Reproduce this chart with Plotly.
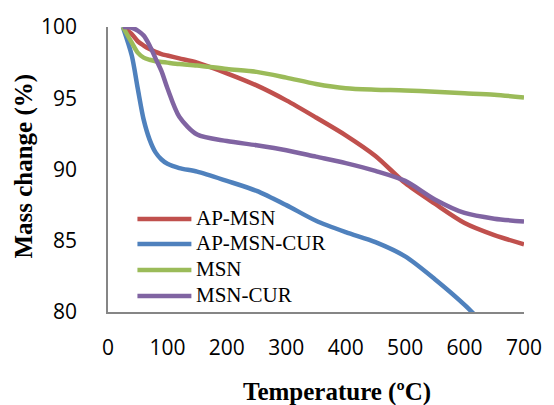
import plotly.graph_objects as go

temperature = [25, 40, 50, 60, 70, 80, 90, 100, 120, 150, 200, 250, 300, 350, 400, 450, 500, 550, 600, 650, 700]

ap_msn = [100, 99.5, 99.0, 98.7, 98.45, 98.25, 98.1, 98.0, 97.8, 97.5, 96.75, 95.9, 94.85, 93.65, 92.4, 90.95, 89.05, 87.6, 86.25, 85.4, 84.75]
ap_msn_cur = [100, 98.0, 95.7, 93.5, 92.1, 91.2, 90.7, 90.4, 90.1, 89.85, 89.2, 88.5, 87.5, 86.4, 85.6, 84.9, 83.9, 82.3, 80.5, 78.4, 76.3]
msn = [100, 98.9, 98.2, 97.85, 97.7, 97.6, 97.55, 97.5, 97.4, 97.3, 97.05, 96.85, 96.45, 96.0, 95.7, 95.6, 95.55, 95.45, 95.35, 95.25, 95.05]
msn_cur = [100, 99.95, 99.75, 99.4, 98.7, 97.8, 96.9, 95.7, 93.7, 92.45, 92.0, 91.7, 91.35, 90.9, 90.45, 89.9, 89.2, 87.9, 86.95, 86.55, 86.35]

series_names = ["AP-MSN", "AP-MSN-CUR", "MSN", "MSN-CUR"]
series_values = [ap_msn, ap_msn_cur, msn, msn_cur]
series_colors = ["#C0504D", "#4F81BD", "#9BBB59", "#8064A2"]

x_ticks = [0, 100, 200, 300, 400, 500, 600, 700]
y_ticks = [80, 85, 90, 95, 100]

SERIF = "Liberation Serif, Times New Roman, serif"

fig = go.Figure()
for name, vals, col in zip(series_names, series_values, series_colors):
    fig.add_trace(go.Scatter(
        x=temperature, y=vals, name=name, mode="lines",
        line=dict(color=col, width=4.5, shape="spline", smoothing=0.8),
        showlegend=False, cliponaxis=True,
    ))

L, R, T, B = 108, 22, 27, 93
W, H = 554, 405
pw, ph = W - L - R, H - T - B

def px_to_paper_x(px):
    return (px - L) / pw

def px_to_paper_y(py):
    return (H - B - py) / ph

legend_rows = [219, 244, 270, 296]
shapes = []
annotations = []
for name, col, ry in zip(series_names, series_colors, legend_rows):
    yp = px_to_paper_y(ry)
    shapes.append(dict(type="line", xref="paper", yref="paper",
                       x0=px_to_paper_x(138), x1=px_to_paper_x(193), y0=yp, y1=yp,
                       line=dict(color=col, width=4.5)))
    annotations.append(dict(text=name, xref="paper", yref="paper",
                            x=px_to_paper_x(196), y=px_to_paper_y(ry - 1),
                            xanchor="left", yanchor="middle", showarrow=False,
                            font=dict(family=SERIF, size=21, color="black")))

annotations.append(dict(text="<b>Mass change (%)</b>", xref="paper", yref="paper",
                        x=px_to_paper_x(22), y=px_to_paper_y(166), textangle=-90,
                        xanchor="center", yanchor="middle", showarrow=False,
                        font=dict(family=SERIF, size=25, color="black")))
annotations.append(dict(text="<b>Temperature (ºC)</b>", xref="paper", yref="paper",
                        x=px_to_paper_x(341), y=px_to_paper_y(392),
                        xanchor="center", yanchor="middle", showarrow=False,
                        font=dict(family=SERIF, size=25, color="black")))

fig.update_layout(
    width=W, height=H,
    margin=dict(l=L, r=R, t=T, b=B, pad=0),
    paper_bgcolor="white", plot_bgcolor="white",
    showlegend=False,
    shapes=shapes, annotations=annotations,
    xaxis=dict(range=[0, 700], tickvals=x_ticks, ticktext=[str(v) for v in x_ticks],
               showgrid=False, zeroline=False, showline=True, linecolor="#868686", linewidth=1.5,
               ticks="", ticklabelstandoff=16,
               tickfont=dict(family="Open Sans", size=21, color="black")),
    yaxis=dict(range=[80, 100], tickvals=y_ticks, ticktext=[str(v) for v in y_ticks],
               showgrid=False, zeroline=False, showline=True, linecolor="#868686", linewidth=1.5,
               ticks="", ticklabelstandoff=25,
               tickfont=dict(family="Open Sans", size=21, color="black")),
)

fig.write_html("out.html")
